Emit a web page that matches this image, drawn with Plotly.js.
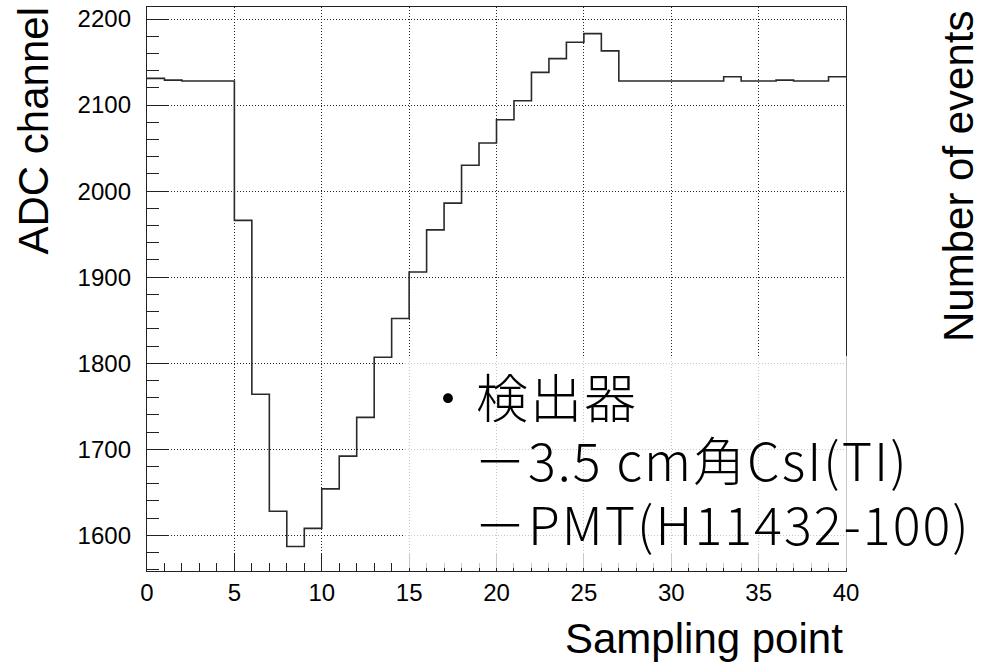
<!DOCTYPE html>
<html>
<head>
<meta charset="utf-8">
<script src="https://cdn.plot.ly/plotly-3.0.1.min.js"></script>
<style>
  html, body { margin: 0; padding: 0; background: #ffffff; }
  #chart { width: 986px; height: 666px; }
</style>
</head>
<body>
<div id="chart"></div>
<script>
// ---- data ----
const binEdges = [0, 1, 2, 3, 4, 5, 6, 7, 8, 9, 10, 11, 12, 13, 14, 15, 16, 17, 18, 19, 20,
                  21, 22, 23, 24, 25, 26, 27, 28, 29, 30, 31, 32, 33, 34, 35, 36, 37, 38, 39, 40];
const adcValues = [2131, 2129, 2128, 2128, 2128, 1966, 1764, 1628, 1587, 1608,
                   1654, 1692, 1737, 1807, 1852, 1906, 1955, 1986, 2030, 2056,
                   2083, 2105, 2138, 2154, 2173, 2183, 2163, 2128, 2128, 2128,
                   2128, 2128, 2128, 2133, 2128, 2128, 2129, 2128, 2128, 2133];
const xTickVals = [0, 5, 10, 15, 20, 25, 30, 35, 40];
const yTickVals = [1600, 1700, 1800, 1900, 2000, 2100, 2200];
const xTitle = "Sampling point";
const yTitle = "ADC channel";
const y2Title = "Number of events";
const noteLines = ["・検出器", "－3.5 cm角CsI(TI)", "－PMT(H11432-100)"];

// ---- layout geometry ----
const W = 986, H = 666;
const M = { l: 147, r: 140, t: 7, b: 95 };
const PW = W - M.l - M.r, PH = H - M.t - M.b;
const px = x => (x - M.l) / PW;
const py = y => (H - M.b - y) / PH;

// step trace: repeat last value at the final edge
const yStep = adcValues.concat([adcValues[adcValues.length - 1]]);

const trace = {
  type: "scatter",
  mode: "lines",
  x: binEdges,
  y: yStep,
  line: { shape: "hv", color: "#2a2a2a", width: 1.6 },
  hoverinfo: "x+y",
  showlegend: false
};

const tickFont = { family: "Liberation Sans, Arial, sans-serif", size: 24, color: "#000" };
const titleFont = { family: "Liberation Sans, Arial, sans-serif", size: 42, color: "#000" };
const noteFont = { family: "Noto Sans CJK JP, sans-serif", size: 52, color: "#000", weight: 300 };
const spaced = s => '<span style="letter-spacing:2px">' + s + '</span>';

const layout = {
  width: W, height: H,
  margin: M,
  paper_bgcolor: "#ffffff",
  plot_bgcolor: "#ffffff",
  showlegend: false,
  xaxis: {
    range: [0, 40],
    tickvals: xTickVals,
    ticktext: xTickVals.map(String),
    ticks: "inside", ticklen: 17, tickwidth: 1, tickcolor: "#222",
    minor: { ticks: "inside", ticklen: 8, dtick: 1, tickwidth: 1, tickcolor: "#222", showgrid: false },
    showline: true, linecolor: "#222", linewidth: 1.2, mirror: true,
    showgrid: true, gridcolor: "#222", gridwidth: 1, griddash: "1px,2px",
    zeroline: false,
    tickfont: tickFont,
    ticklabelstandoff: 0
  },
  yaxis: {
    range: [1558.5, 2214],
    tickvals: yTickVals,
    ticktext: yTickVals.map(String),
    ticks: "inside", ticklen: 22, tickwidth: 1, tickcolor: "#222",
    minor: { ticks: "inside", ticklen: 12, dtick: 20, tickwidth: 1, tickcolor: "#222", showgrid: false },
    showline: true, linecolor: "#222", linewidth: 1.2, mirror: true,
    showgrid: true, gridcolor: "#222", gridwidth: 1, griddash: "1px,2px",
    zeroline: false,
    tickfont: tickFont,
    ticklabelstandoff: 10
  },
  shapes: [
    {
      type: "rect", layer: "above", xref: "paper", yref: "paper",
      x0: px(405), x1: px(990), y0: py(568), y1: py(356),
      fillcolor: "rgba(255,255,255,0.75)", line: { width: 0 }
    }
  ],
  annotations: [
    { text: xTitle, xref: "paper", yref: "paper", x: px(845), y: py(638),
      xanchor: "right", yanchor: "middle", showarrow: false, font: titleFont },
    { text: yTitle, xref: "paper", yref: "paper", x: px(33), y: py(6),
      xanchor: "center", yanchor: "top", textangle: -90, showarrow: false, font: titleFont },
    { text: y2Title, xref: "paper", yref: "paper", x: px(958), y: py(8),
      xanchor: "center", yanchor: "top", textangle: -90, showarrow: false, font: titleFont },
    { text: spaced(noteLines[0]), xref: "paper", yref: "paper", x: px(420), y: py(395),
      xanchor: "left", yanchor: "middle", showarrow: false, font: noteFont },
    { text: spaced(noteLines[1]), xref: "paper", yref: "paper", x: px(472), y: py(459),
      xanchor: "left", yanchor: "middle", showarrow: false, font: noteFont },
    { text: spaced(noteLines[2]), xref: "paper", yref: "paper", x: px(472), y: py(522),
      xanchor: "left", yanchor: "middle", showarrow: false, font: noteFont }
  ]
};

Plotly.newPlot("chart", [trace], layout, { staticPlot: true, displayModeBar: false });
</script>
</body>
</html>
